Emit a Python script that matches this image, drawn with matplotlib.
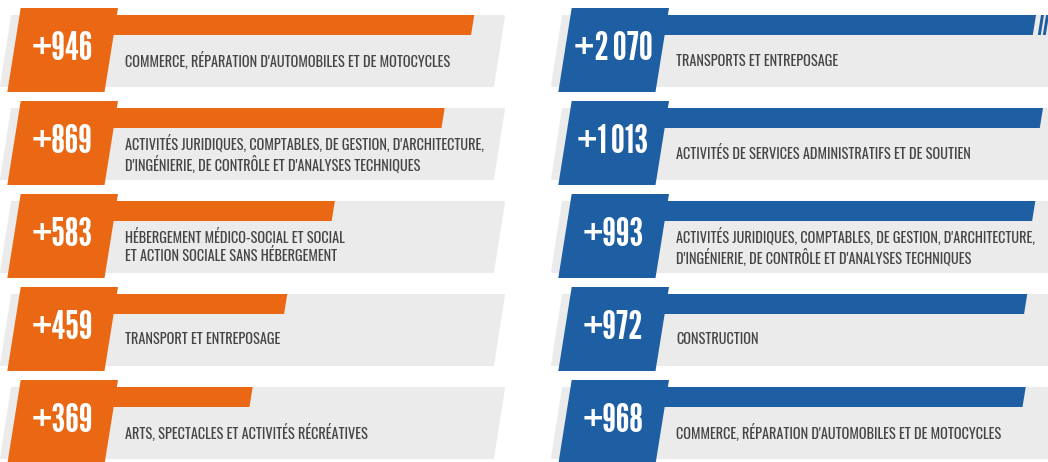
import matplotlib
matplotlib.use("Agg")
import matplotlib.pyplot as plt
from matplotlib.patches import Polygon

# data
left_values = [946, 869, 583, 459, 369]
left_labels = [
    "COMMERCE, RÉPARATION D'AUTOMOBILES ET DE MOTOCYCLES",
    "ACTIVITÉS JURIDIQUES, COMPTABLES, DE GESTION, D'ARCHITECTURE,\nD'INGÉNIERIE, DE CONTRÔLE ET D'ANALYSES TECHNIQUES",
    "HÉBERGEMENT MÉDICO-SOCIAL ET SOCIAL\nET ACTION SOCIALE SANS HÉBERGEMENT",
    "TRANSPORT ET ENTREPOSAGE",
    "ARTS, SPECTACLES ET ACTIVITÉS RÉCRÉATIVES",
]
right_values = [2070, 1013, 993, 972, 968]
right_labels = [
    "TRANSPORTS ET ENTREPOSAGE",
    "ACTIVITÉS DE SERVICES ADMINISTRATIFS ET DE SOUTIEN",
    "ACTIVITÉS JURIDIQUES, COMPTABLES, DE GESTION, D'ARCHITECTURE,\nD'INGÉNIERIE, DE CONTRÔLE ET D'ANALYSES TECHNIQUES",
    "CONSTRUCTION",
    "COMMERCE, RÉPARATION D'AUTOMOBILES ET DE MOTOCYCLES",
]

orange = "#ea6814"
blue = "#1e5ea3"
grey = "#ebebeb"
txtcol = "#454545"

W, H = 1048, 462
fig = plt.figure(figsize=(W / 100, H / 100), dpi=100)
ax = fig.add_axes([0, 0, 1, 1])
ax.set_xlim(0, W)
ax.set_ylim(H, 0)
ax.axis("off")

k = 0.384       # px per job
sl = 0.16       # slant of the shapes
row_h = 93


def fmt(v):
    return "+" + f"{v:,}".replace(",", "\u200a")


def panel(values, labels, dx, x0, col, gray_right, cut=None):
    for i, (v, lab) in enumerate(zip(values, labels)):
        t = 8 + row_h * i
        # grey background
        ax.add_patch(Polygon([(12 + dx, t + 8), (gray_right, t + 8),
                              (gray_right - 11, t + 78), (1 + dx, t + 78)],
                             closed=True, fc=grey, ec=grey, lw=1.5, joinstyle="round", zorder=1))
        # bar (broken when it runs off the panel)
        xe = x0 + v * k
        broken = cut is not None and xe > W
        if broken:
            xe = cut
        ax.add_patch(Polygon([(110 + dx, t + 7), (xe, t + 7), (xe - 20 * sl, t + 27), (110 + dx, t + 27)],
                             closed=True, fc=col, ec="none", zorder=2))
        if broken:
            for bx in (cut + 5, cut + 10):
                ax.add_patch(Polygon([(bx, t + 7), (bx + 3, t + 7), (bx + 3 - 20 * sl, t + 27),
                                      (bx - 20 * sl, t + 27)], closed=True, fc=col, ec="none", zorder=2))
        # label box
        ax.add_patch(Polygon([(20.7 + dx, t), (118 + dx, t), (104.5 + dx, t + 84), (7.3 + dx, t + 84)],
                             closed=True, fc=col, ec="none", zorder=3))
        ax.text(62 + dx, t + 41, fmt(v), color="white", fontsize=28.5,
                family=["League Gothic", "DejaVu Sans"],
                ha="center", va="center", zorder=4)
        ax.text(125 + dx, t + 53, lab, color=txtcol, fontsize=10.3, family="Oswald",
                ha="left", va="center", linespacing=1.15, zorder=4)


panel(left_values, left_labels, 0, 111, orange, 504)
panel(right_values, right_labels, 551, 654, blue, 1060, cut=1036)

fig.savefig("out.png", dpi=100)
